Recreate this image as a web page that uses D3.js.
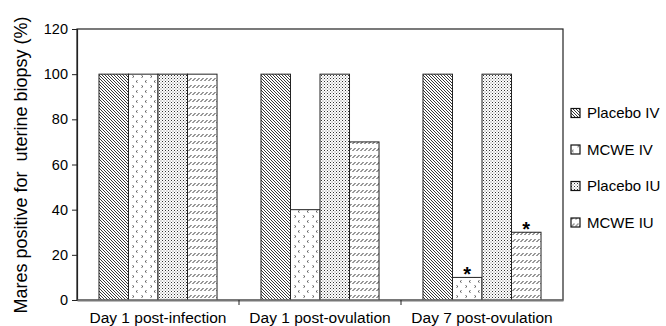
<!DOCTYPE html>
<html>
<head>
<meta charset="utf-8">
<script src="https://cdn.jsdelivr.net/npm/d3@7"></script>
<style>
  body { margin: 0; background: #fff; }
  svg { font-family: Arial, "Liberation Sans", sans-serif; }
</style>
</head>
<body>
<div class="chart"></div>
<script>
// data
const categories = ['Day 1 post-infection', 'Day 1 post-ovulation', 'Day 7 post-ovulation'];
const series = ['Placebo IV', 'MCWE IV', 'Placebo IU', 'MCWE IU'];
const placeboIV = [100, 100, 100];
const mcweIV = [100, 40, 10];
const placeboIU = [100, 100, 100];
const mcweIU = [100, 70, 30];
const significant = [[false, false, false, false], [false, false, false, false], [false, true, false, true]];
const yTicks = [0, 20, 40, 60, 80, 100, 120];

const values = [placeboIV, mcweIV, placeboIU, mcweIU];
const rows = [];
categories.forEach((c, i) => {
    series.forEach((s, j) => {
        rows.push({cat: c, ser: s, value: values[j][i], star: significant[i][j]});
    });
});

const width = 666;
const height = 326;
const svg = d3.select('.chart')
    .append('svg')
    .attr('width', width)
    .attr('height', height);

// fill patterns
const defs = svg.append('defs');
const pat = (id, w, h) => defs.append('pattern')
    .attr('id', id)
    .attr('patternUnits', 'userSpaceOnUse')
    .attr('width', w)
    .attr('height', h);

let p = pat('p0', 3, 3);
p.append('rect').attr('width', 3).attr('height', 3).attr('fill', '#fff');
p.append('path').attr('d', 'M-1,-1 L4,4 M-1,2 L1,4 M2,-1 L4,1')
    .attr('stroke', '#222').attr('stroke-width', 0.9);

p = pat('p1', 9, 10);
p.append('rect').attr('width', 9).attr('height', 10).attr('fill', '#fff');
p.append('path').attr('d', 'M2.5,0.5 L1,1.5 L2.5,2.5 M6.5,5.5 L8,6.5 L6.5,7.5')
    .attr('stroke', '#444').attr('stroke-width', 0.9).attr('fill', 'none');

p = pat('p2', 3, 3);
p.append('rect').attr('width', 3).attr('height', 3).attr('fill', '#fff');
p.append('rect').attr('x', 0).attr('y', 0).attr('width', 1).attr('height', 1).attr('fill', '#333');
p.append('rect').attr('x', 1.5).attr('y', 1.5).attr('width', 1).attr('height', 1).attr('fill', '#777');

p = pat('p3', 4, 7);
p.append('rect').attr('width', 4).attr('height', 7).attr('fill', '#fff');
p.append('path').attr('d', 'M0.5,4 L3.5,1')
    .attr('stroke', '#333').attr('stroke-width', 1);

const fills = d3.scaleOrdinal().domain(series).range(['url(#p0)', 'url(#p1)', 'url(#p2)', 'url(#p3)']);

// scales
const mLeft = 77, mRight = 563, mTop = 29, mBottom = 300;
const x0 = d3.scaleBand().domain(categories).range([mLeft, mRight]);
const x1 = d3.scaleBand().domain(series).range([0, x0.bandwidth()]).paddingOuter(0.745);
const y = d3.scaleLinear().domain([0, 120]).range([mBottom, mTop]);

// frame
svg.append('rect')
    .attr('x', mLeft).attr('y', mTop)
    .attr('width', mRight - mLeft).attr('height', mBottom - mTop)
    .attr('fill', 'none').attr('stroke', '#222').attr('stroke-width', 1.2);

// bars
svg.selectAll('rect.bar')
    .data(rows)
    .enter()
    .append('rect')
    .attr('class', 'bar')
    .attr('x', d => x0(d.cat) + x1(d.ser))
    .attr('y', d => y(d.value))
    .attr('width', x1.bandwidth())
    .attr('height', d => y(0) - y(d.value))
    .attr('fill', d => fills(d.ser))
    .attr('stroke', '#222')
    .attr('stroke-width', 1);

// asterisks
svg.selectAll('text.star')
    .data(rows.filter(d => d.star))
    .enter()
    .append('text')
    .attr('class', 'star')
    .attr('x', d => x0(d.cat) + x1(d.ser) + x1.bandwidth() / 2)
    .attr('y', d => y(d.value) + 4)
    .attr('text-anchor', 'middle')
    .attr('font-size', 20)
    .attr('font-weight', 'bold')
    .text('*');

// y axis
const yAxis = svg.append('g')
    .attr('transform', `translate(${mLeft},0)`)
    .call(d3.axisLeft(y).tickValues(yTicks).tickSize(5).tickPadding(4));
yAxis.select('.domain').attr('stroke', '#222').attr('stroke-width', 1.2);
yAxis.selectAll('.tick line').attr('stroke', '#222');
yAxis.selectAll('.tick text').attr('font-size', 14.5).attr('fill', '#000')
    .attr('font-family', 'Arial, "Liberation Sans", sans-serif');

// x axis
const xAxis = svg.append('g')
    .attr('transform', `translate(0,${mBottom})`)
    .call(d3.axisBottom(x0).tickSize(0).tickPadding(12));
xAxis.select('.domain').attr('stroke', '#777').attr('stroke-width', 2);
xAxis.selectAll('.tick text').attr('font-size', 15.5).attr('fill', '#000')
    .attr('font-family', 'Arial, "Liberation Sans", sans-serif');
// category separators
svg.selectAll('line.sep')
    .data(categories.slice(1))
    .enter()
    .append('line')
    .attr('class', 'sep')
    .attr('x1', d => x0(d)).attr('x2', d => x0(d))
    .attr('y1', mBottom).attr('y2', mBottom + 5)
    .attr('stroke', '#222');

// y title
svg.append('text')
    .attr('transform', `translate(21,165) rotate(-90)`)
    .attr('text-anchor', 'middle')
    .attr('dy', '0.35em')
    .attr('font-size', 18)
    .style('white-space', 'pre')
    .text('Mares positive for  uterine biopsy (%)');

// legend
const legend = svg.selectAll('g.leg')
    .data(series)
    .enter()
    .append('g')
    .attr('class', 'leg')
    .attr('transform', (d, i) => `translate(571,${113 + i * 36.5})`);
legend.append('rect')
    .attr('x', 0).attr('y', -4.5)
    .attr('width', 9).attr('height', 9)
    .attr('fill', d => fills(d))
    .attr('stroke', '#111').attr('stroke-width', 1.2);
legend.append('text')
    .attr('x', 16).attr('y', 0)
    .attr('dy', '0.35em')
    .attr('font-size', 15)
    .text(d => d);
</script>
</body>
</html>
